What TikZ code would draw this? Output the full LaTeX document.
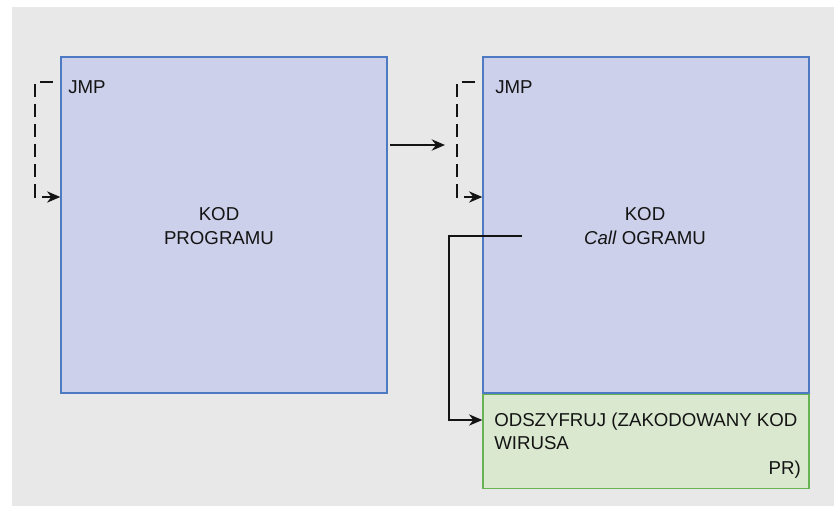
\documentclass[tikz,border=0pt]{standalone}
\usepackage{fontspec}
\setmainfont{Liberation Sans}
\usepackage{xcolor}
\usepackage{tikz}
\usetikzlibrary{arrows.meta, positioning, calc}

\definecolor{bggray}{RGB}{232,232,232}
\definecolor{codefill}{RGB}{204,208,234}
\definecolor{codeline}{RGB}{78,122,196}
\definecolor{decfill}{RGB}{218,232,207}
\definecolor{decline}{RGB}{104,180,84}
\definecolor{ink}{RGB}{20,20,20}

\tikzset{
  codebox/.style={draw=codeline, fill=codefill, line width=1pt,
    minimum width=244.5pt, minimum height=252pt, inner sep=0pt},
  decbox/.style={draw=decline, fill=decfill, line width=1pt,
    minimum width=244.5pt, minimum height=70.5pt, inner sep=0pt},
  flow/.style={draw=ink, line width=1.2pt, -{Stealth[length=10pt, width=8.5pt]}},
  jmpline/.style={flow, dash pattern=on 10pt off 5pt},
  txt/.style={text=ink, inner sep=0pt}
}

\begin{document}
\begin{tikzpicture}[x=0.75pt, y=-0.75pt, font=\fontsize{14}{17.5}\selectfont]
\useasboundingbox (0,0) rectangle (834,506);
\fill[bggray] (12,7) rectangle (834,506);

% program before and after infection
\node[codebox] (prog) at (224,225) {};
\node[codebox] (vir) at (646,225) {};
\node[decbox, anchor=north] (dec) at (vir.south) {};

\node[txt, align=center] (progtxt) at (219,226) {KOD\\PROGRAMU};
\node[txt, align=center] (virtxt) at (645,226) {KOD\\\textit{Call} OGRAMU};

% JMP at the start of each block
\foreach \x/\b/\j in {61/prog/68, 483/vir/495} {
  \node[txt, anchor=west] (jmp\b) at (\j,87) {JMP};
  \coordinate (jmpfrom\b) at (\x-8,82);
  \draw[jmpline] (jmpfrom\b) -- ++(-18,0) |- (\b.west |- 0,197);
}

% infection step
\coordinate (hopstart) at (390,145);
\coordinate (hopend) at (445,145);
\draw[flow] (hopstart) -- (hopend);

% call into the decryptor
\coordinate (callpt) at (522,236);
\draw[flow] (callpt) -- (449,236) |- (dec.west |- 0,420);

\node[txt, anchor=west, align=left] (dectxt) at (494,431.5)
  {ODSZYFRUJ (ZAKODOWANY KOD\\WIRUSA};
\node[txt, anchor=east] (prtxt) at (801,470) {PR)};
\end{tikzpicture}
\end{document}
